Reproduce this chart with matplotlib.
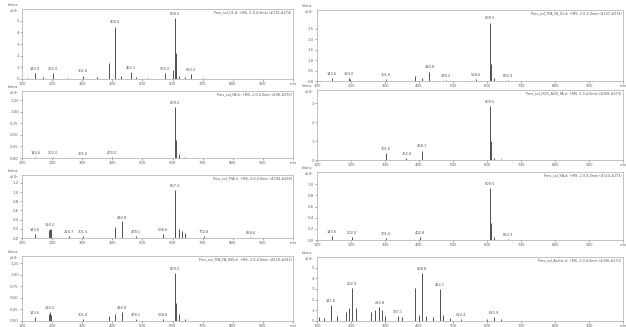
import numpy as np
import matplotlib
matplotlib.use('Agg')
import matplotlib.pyplot as plt

# peak lists (m/z, intensity in x10^5, label)
mz1 = [120, 143.9, 170, 202.0, 250, 301.6, 350, 388.0, 408.0, 430, 462.1, 480, 520, 575.0, 600, 608.5, 610.5, 613, 620, 640, 660.2, 700]
in1 = [0.1, 0.5, 0.15, 0.5, 0.1, 0.3, 0.15, 1.4, 4.5, 0.3, 0.6, 0.15, 0.1, 0.5, 0.8, 5.2, 2.2, 1.0, 0.3, 0.15, 0.4, 0.05]
lb1 = ['', '143.9', '', '202.0', '', '301.6', '', '', '408.0', '', '462.1', '', '', '575.0', '', '608.5', '', '', '', '', '660.2', '']

mz2 = [143.6, 193.0, 196, 301.8, 388, 408, 430.8, 478.2, 568.6, 609.5, 611, 620, 660.3]
in2 = [0.12, 0.12, 0.08, 0.1, 0.25, 0.15, 0.45, 0.05, 0.08, 2.8, 0.8, 0.15, 0.05]
lb2 = ['143.6', '193.0', '', '301.8', '', '', '430.8', '478.2', '568.6', '609.5', '', '', '660.3']

mz3 = [144.6, 202.0, 301.6, 400.0, 609.5, 611, 620, 640]
in3 = [0.02, 0.02, 0.01, 0.02, 1.1, 0.4, 0.08, 0.03]
lb3 = ['144.6', '202.0', '301.6', '400.0', '609.5', '', '', '']

mz4 = [301.6, 362.8, 408.1, 609.5, 611, 620, 640]
in4 = [0.35, 0.1, 0.5, 2.85, 1.0, 0.1, 0.05]
lb4 = ['301.6', '362.8', '408.1', '609.5', '', '', '']

mz5 = [143.6, 190, 193.2, 197, 256.7, 301.5, 408, 430.8, 478.1, 568.6, 607.3, 609, 620, 630, 640, 702.8, 858.6]
in5 = [0.08, 0.18, 0.2, 0.2, 0.04, 0.04, 0.25, 0.36, 0.05, 0.08, 1.05, 0.55, 0.2, 0.15, 0.1, 0.04, 0.03]
lb5 = ['143.6', '', '193.2', '', '256.7', '301.5', '', '430.8', '478.1', '568.6', '607.3', '', '', '', '', '702.8', '858.6']

mz6 = [143.6, 202.0, 301.6, 402.8, 609.5, 611, 620, 660.3]
in6 = [0.08, 0.05, 0.03, 0.05, 0.94, 0.3, 0.05, 0.02]
lb6 = ['143.6', '202.0', '301.6', '402.8', '609.5', '', '', '660.3']

mz7 = [143.6, 190, 193.2, 197, 301.6, 388, 408, 430.8, 478.1, 568.6, 609.5, 611, 620, 640]
in7 = [0.08, 0.15, 0.2, 0.12, 0.05, 0.1, 0.15, 0.2, 0.05, 0.05, 1.05, 0.4, 0.15, 0.05]
lb7 = ['143.6', '', '193.2', '', '301.6', '', '', '430.8', '478.1', '568.6', '609.5', '', '', '']

mz8 = [105, 120, 141.6, 160, 185, 195, 202.9, 215, 260, 270, 283.8, 290, 300, 337.1, 350, 388.0, 400, 408.8, 420, 440, 462.1, 470, 490, 522.4, 600, 620.9, 640]
in8 = [0.4, 0.3, 1.5, 0.5, 0.8, 1.2, 3.1, 1.2, 0.8, 1.0, 1.3, 1.0, 0.5, 0.5, 0.4, 3.1, 0.6, 4.5, 0.5, 0.4, 3.0, 0.6, 0.3, 0.2, 0.2, 0.4, 0.15]
lb8 = ['', '', '141.6', '', '', '', '202.9', '', '', '', '283.8', '', '', '337.1', '', '', '', '408.8', '', '', '462.1', '', '', '522.4', '', '620.9', '']

titles = ['Pres_sol_01.d: +MS, 2.0-4.0min (#110-#274)',
          'Pres_sol_TFA_FA_01.d: +MS, 2.0-4.0min (#107-#274)',
          'Pres_sol_FA.d: +MS, 2.0-4.0min (#98-#270)',
          'Pres_sol_H2O_ACN_FA.d: +MS, 2.0-4.0min (#108-#273)',
          'Pres_sol_TFA.d: +MS, 2.0-4.0min (#104-#268)',
          'Pres_sol_SA.d: +MS, 2.0-4.0min (#110-#273)',
          'Pres_sol_TFA_FA_005.d: +MS, 2.0-4.0min (#118-#283)',
          'Pres_sol_Acetic.d: +MS, 2.0-4.0min (#106-#273)']

yticks = [[0, 1, 2, 3, 4, 5], [0.0, 0.5, 1.0, 1.5, 2.0, 2.5], [0.00, 0.25, 0.50, 0.75, 1.00, 1.25],
          [0, 1, 2, 3], [0.0, 0.2, 0.4, 0.6, 0.8, 1.0, 1.2], [0.0, 0.2, 0.4, 0.6, 0.8, 1.0],
          [0.00, 0.25, 0.50, 0.75, 1.00, 1.25], [0, 1, 2, 3, 4, 5]]
ytop = [6.0, 3.4, 1.45, 3.7, 1.37, 1.22, 1.41, 6.0]

spectra = [(mz1, in1, lb1), (mz2, in2, lb2), (mz3, in3, lb3), (mz4, in4, lb4),
           (mz5, in5, lb5), (mz6, in6, lb6), (mz7, in7, lb7), (mz8, in8, lb8)]

# panel boxes in pixels (left, top, right, bottom)
boxes = [(22, 9, 293, 79), (317, 10, 623, 81),
         (22, 91, 293, 158), (317, 90, 623, 160),
         (22, 175, 293, 238), (317, 172, 623, 240),
         (22, 256, 293, 321), (317, 257, 623, 321)]

W, H = 626, 327
fig = plt.figure(figsize=(W / 100, H / 100), dpi=100)
grey = '#666666'

for i in range(8):
    l, t, r, b = boxes[i]
    ax = fig.add_axes([l / W, 1 - b / H, (r - l) / W, (b - t) / H])
    mz, inten, lab = spectra[i]
    ax.vlines(mz, 0, inten, color='#505050', lw=0.7)
    for x, y, s in zip(mz, inten, lab):
        if s:
            ax.text(x, y + ytop[i] * 0.03, s, fontsize=2.6, color='#555555', ha='center', va='bottom')
    ax.set_xlim(100, 1000)
    ax.set_ylim(0, ytop[i])
    ax.set_xticks(np.arange(100, 1001, 100))
    ax.set_xticklabels([str(v) for v in range(100, 1000, 100)] + ['m/z'])
    ax.set_yticks(yticks[i])
    ax.tick_params(labelsize=2.8, colors=grey, length=1.5, width=0.4, pad=0.8)
    for sp in ax.spines.values():
        sp.set_color('#aaaaaa')
        sp.set_linewidth(0.5)
    ax.text(0.995, 0.985, titles[i], transform=ax.transAxes, fontsize=2.4,
            color='#555555', ha='right', va='top')
    ax.text(-0.012, 1.0, 'Intens.\nx10$^5$', transform=ax.transAxes, fontsize=2.4,
            color='#555555', ha='right', va='center', linespacing=1.0)

fig.savefig('out.png', dpi=100, facecolor='white')
